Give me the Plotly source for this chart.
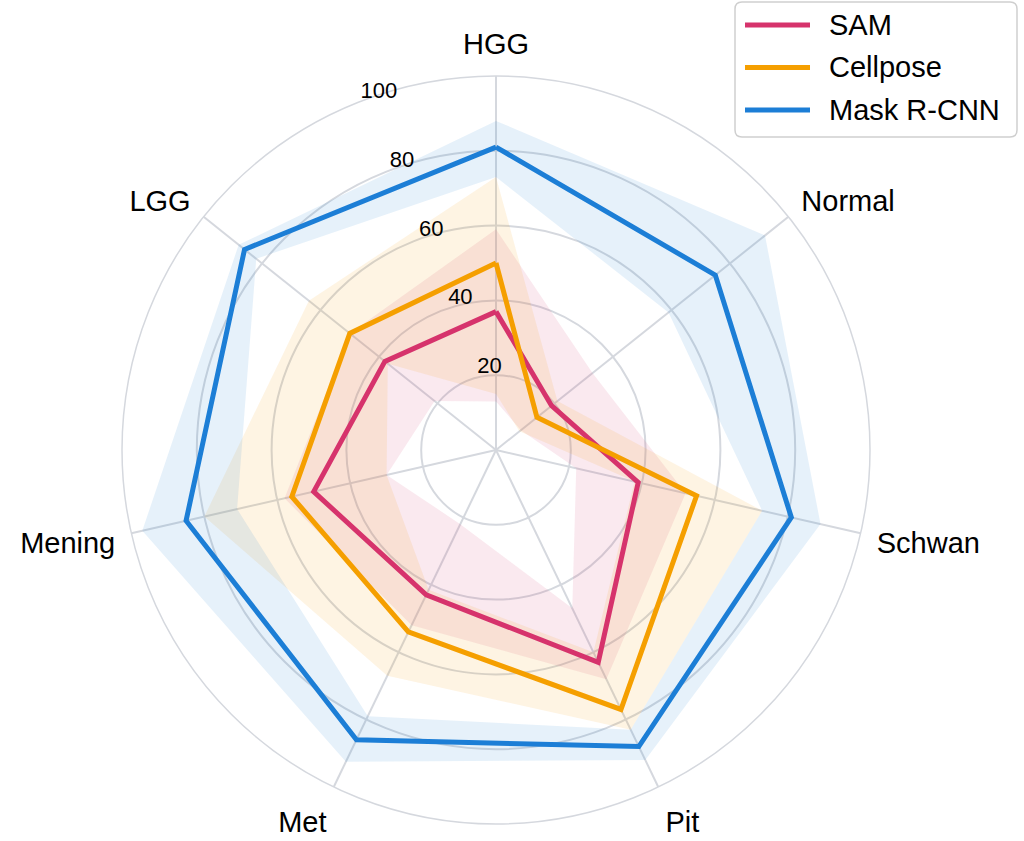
import plotly.graph_objects as go

# categories (clockwise from top)
cats = ["HGG", "Normal", "Schwan", "Pit", "Met", "Mening", "LGG"]

# SAM
sam = [37, 19, 39, 63, 43, 50, 38]
sam_lo = [13, 8.5, 22, 47, 22, 30, 21]
sam_hi = [59, 33, 52, 68, 52, 58, 50]

# Cellpose
cp = [50, 14, 55, 77, 54, 56, 50]
cp_lo = [15, 8, 38, 60, 41.5, 30, 37]
cp_hi = [73, 21, 73, 83, 67, 80, 64]

# Mask R-CNN
mr = [81, 75, 81, 88, 86, 85, 86]
mr_lo = [73, 59, 73, 83, 79, 71, 82]
mr_hi = [88, 92, 89, 92, 92.5, 97, 88]

radial_ticks = [20, 40, 60, 80, 100]

series = [
    ("SAM", sam, sam_lo, sam_hi, "#d6336c", "rgba(214,51,108,0.11)"),
    ("Cellpose", cp, cp_lo, cp_hi, "#f59f00", "rgba(245,159,0,0.11)"),
    ("Mask R-CNN", mr, mr_lo, mr_hi, "#1c7ed6", "rgba(28,126,214,0.11)"),
]

W, H = 1024, 841

fig = go.Figure()

# shaded bands (ring between lower and upper polygon)
for name, v, lo, hi, col, fillcol in series:
    th = cats + [cats[0]] + [cats[0]] + cats[:0:-1] + [cats[0]]
    rr = hi + [hi[0]] + [lo[0]] + lo[:0:-1] + [lo[0]]
    fig.add_trace(go.Scatterpolar(
        r=rr, theta=th, mode="lines", fill="toself", fillcolor=fillcol,
        line=dict(width=0, color=fillcol), showlegend=False, hoverinfo="skip"))

# mean lines
for name, v, lo, hi, col, fillcol in series:
    fig.add_trace(go.Scatterpolar(
        r=v + [v[0]], theta=cats + [cats[0]], mode="lines", name=name,
        line=dict(color=col, width=5), showlegend=False))

# legend box drawn by hand (rounded frame, long line samples)
x0, x1, y0, y1, rad = 735, 1017, 2, 137, 7
px = lambda x: x / W
py = lambda y: 1 - y / H
frame = (f"M {px(x0 + rad)},{py(y0)} L {px(x1 - rad)},{py(y0)} "
         f"Q {px(x1)},{py(y0)} {px(x1)},{py(y0 + rad)} "
         f"L {px(x1)},{py(y1 - rad)} Q {px(x1)},{py(y1)} {px(x1 - rad)},{py(y1)} "
         f"L {px(x0 + rad)},{py(y1)} Q {px(x0)},{py(y1)} {px(x0)},{py(y1 - rad)} "
         f"L {px(x0)},{py(y0 + rad)} Q {px(x0)},{py(y0)} {px(x0 + rad)},{py(y0)} Z")
shapes = [dict(type="path", path=frame, xref="paper", yref="paper",
               line=dict(color="#cfcfcf", width=1.5), fillcolor="white")]
annotations = []
for i, (name, v, lo, hi, col, fillcol) in enumerate(series):
    yy = 25 + i * 42.5
    shapes.append(dict(type="line", xref="paper", yref="paper",
                       x0=px(745), x1=px(810), y0=py(yy), y1=py(yy),
                       line=dict(color=col, width=5)))
    annotations.append(dict(text=name, xref="paper", yref="paper",
                            x=px(827), y=py(yy), xanchor="left", yanchor="middle",
                            showarrow=False, font=dict(size=29, color="black")))

grid = "#d5d8de"
fig.update_layout(
    width=W, height=H,
    margin=dict(l=0, r=0, t=0, b=0),
    paper_bgcolor="white",
    showlegend=False,
    font=dict(family="Liberation Sans, Arial, sans-serif", color="black"),
    shapes=shapes,
    annotations=annotations,
    polar=dict(
        domain=dict(x=[122 / W, 870 / W], y=[17 / H, 765 / H]),
        bgcolor="white",
        radialaxis=dict(range=[0, 100], tickvals=radial_ticks,
                        # empty second line lifts each label above its ring
                        ticktext=[f"{t}<br> " for t in radial_ticks],
                        angle=113, tickangle=113,
                        side="clockwise", showline=False, ticks="",
                        gridcolor=grid, gridwidth=1.5,
                        tickfont=dict(size=22, color="black")),
        angularaxis=dict(direction="clockwise", rotation=90,
                         ticks="outside", ticklen=10, tickcolor="rgba(0,0,0,0)",
                         gridcolor=grid, gridwidth=1.5,
                         linecolor=grid, linewidth=1.5,
                         tickfont=dict(size=29, color="black")),
    ),
)

# page body has a default 8px margin; remove it so the figure sits at 0,0
fig.write_html("out.html", config={"displayModeBar": False},
               post_script="document.body.style.margin='0px';")
